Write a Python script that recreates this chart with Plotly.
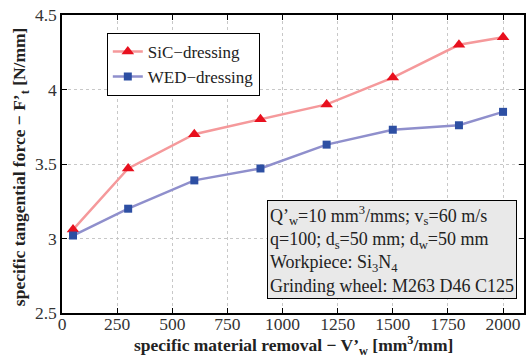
import plotly.graph_objects as go

x_vals = [50, 300, 600, 900, 1200, 1500, 1800, 2000]
sic = [3.06, 3.47, 3.70, 3.80, 3.90, 4.08, 4.30, 4.35]
wed = [3.02, 3.20, 3.39, 3.47, 3.63, 3.73, 3.76, 3.85]
x_ticks = [0, 250, 500, 750, 1000, 1250, 1500, 1750, 2000]
y_ticks = [2.5, 3, 3.5, 4, 4.5]

font = "Liberation Serif"
fig = go.Figure()
fig.add_trace(go.Scatter(x=x_vals, y=sic, mode="lines+markers", name="SiC\u2212dressing",
                         line=dict(color="#f5999b", width=2.5),
                         marker=dict(symbol="triangle-up", size=11, color="#e8101e")))
fig.add_trace(go.Scatter(x=x_vals, y=wed, mode="lines+markers", name="WED\u2212dressing",
                         line=dict(color="#8f8fcc", width=2.5),
                         marker=dict(symbol="square", size=8, color="#2d4fa3")))

axis_common = dict(showgrid=True, gridcolor="#c8c8c8", griddash="dot", gridwidth=1,
                   ticks="inside", ticklen=5, tickcolor="black", showline=True,
                   linecolor="black", linewidth=1.5, mirror="ticks", zeroline=False,
                   tickfont=dict(family=font, size=17.5, color="#333"))
fig.update_xaxes(range=[0, 2095], tickvals=x_ticks, ticklabelstandoff=-6, **axis_common)
fig.update_yaxes(range=[2.5, 4.5], tickvals=y_ticks, ticktext=["2.5", "3", "3.5", "4", "4.5"], **axis_common)

fig.add_annotation(xref="paper", yref="paper", x=0.5, y=-0.11, xanchor="center", yanchor="middle",
                   showarrow=False,
                   text="<b>specific material removal \u2212 V\u2019<sub>w</sub> [mm<sup>3</sup>/mm]</b>",
                   font=dict(family=font, size=17.5, color="#222"))
fig.add_annotation(xref="paper", yref="paper", x=-0.0884, y=0.49, xanchor="center", yanchor="middle",
                   showarrow=False, textangle=-90,
                   text="<b>specific tangential force \u2212 F\u2019<sub>t</sub> [N/mm]</b>",
                   font=dict(family=font, size=17.5, color="#222"))

fig.add_annotation(xref="paper", yref="paper", x=0.444, y=0.047, xanchor="left", yanchor="bottom",
                   align="left", showarrow=False,
                   text=("Q\u2019<sub>w</sub>=10 mm<sup>3</sup>/mms; v<sub>s</sub>=60 m/s<br>"
                         "q=100; d<sub>s</sub>=50 mm; d<sub>w</sub>=50 mm<br>"
                         "Workpiece: Si<sub>3</sub>N<sub>4</sub><br>"
                         "Grinding wheel: M263 D46 C125"),
                   font=dict(family=font, size=18, color="#222"),
                   bgcolor="#e9e9e9", bordercolor="black", borderwidth=1, borderpad=2)

fig.update_layout(width=526, height=358, margin=dict(l=62, r=0, t=15, b=45),
                  plot_bgcolor="white", paper_bgcolor="white",
                  legend=dict(x=0.097, y=0.94, xanchor="left", yanchor="top",
                              bgcolor="white", bordercolor="black", borderwidth=1,
                              font=dict(family=font, size=17, color="#222"),
                              tracegroupgap=0, itemwidth=30))
fig.write_html("out.html")
